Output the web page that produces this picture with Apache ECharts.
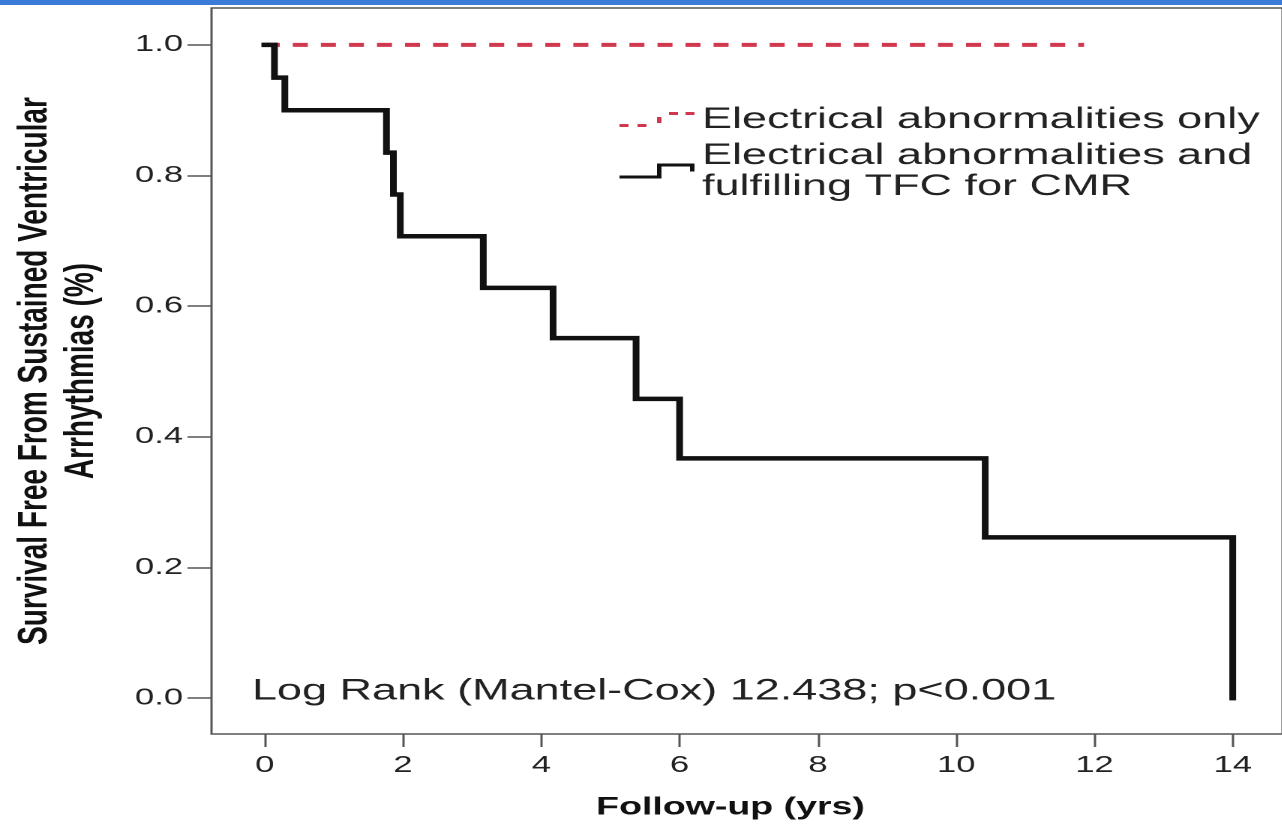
<!DOCTYPE html>
<html>
<head>
<meta charset="utf-8">
<title>Survival free from sustained ventricular arrhythmias</title>
<script src="https://cdn.jsdelivr.net/npm/echarts@6/dist/echarts.min.js"></script>
<style>
    html, body { margin: 0; padding: 0; overflow: hidden; background: #fff; }
    /* the source figure is stretched sideways, so the chart is drawn narrow and widened */
    #chart { width: 855px; height: 825px; transform: scaleX(1.5); transform-origin: 0 0; }
</style>
</head>
<body>
<div id="chart"></div>
<script>
// 数据
var timeOnly = [0, 11.85];
var survOnly = [1.0, 1.0];
var timeTFC = [0, 0.14, 0.29, 1.76, 1.86, 1.96, 3.16, 4.17, 5.37, 6.0, 10.42, 14.0];
var survTFC = [1.0, 0.95, 0.90, 0.835, 0.771, 0.707, 0.628, 0.551, 0.458, 0.367, 0.246, 0.0];
var xTicks = [0, 2, 4, 6, 8, 10, 12, 14];
var yTicks = [0, 0.2, 0.4, 0.6, 0.8, 1.0];

var nameOnly = 'Electrical abnormalities only';
var nameTFC = 'Electrical abnormalities and\nfulfilling TFC for CMR';
var font = "'Liberation Sans', Arial, sans-serif";

function pairs(xs, ys) {
    return xs.map(function(x, i) { return [x, ys[i]]; });
}

var chart = echarts.init(document.getElementById('chart'), null, { devicePixelRatio: 2 });

var option = {
    animation: false,
    textStyle: { fontFamily: font },
    grid: {
        left: 141, right: -3, top: 8, bottom: 89,
        show: true, borderColor: '#555', borderWidth: 1.5
    },
    legend: {
        orient: 'vertical',
        left: 413, top: 104,
        padding: 0,
        itemWidth: 50, itemHeight: 15, itemGap: 5,
        selectedMode: false,
        textStyle: { fontFamily: font, fontSize: 30, color: '#222', lineHeight: 31 },
        data: [
            { name: nameOnly, icon: 'path://M0,12h6v3h-6z M12,12h6v3h-6z M25,5h3v6h-3z M33,0h6v3h-6z M44,0h6v3h-6z' },
            { name: nameTFC, icon: 'path://M0,12L25,12L25,0L50,0L50,8L47,8L47,3L28,3L28,15L0,15z' }
        ]
    },
    xAxis: {
        type: 'value',
        min: -0.7706, max: 14.72,
        name: 'Follow-up (yrs)',
        nameLocation: 'middle',
        nameGap: 61,
        nameTextStyle: { fontFamily: font, fontSize: 25, fontWeight: 'bold', color: '#111', padding: [0, 22, 0, 0] },
        axisLine: { show: false, onZero: false },
        splitLine: { show: false },
        axisTick: { customValues: xTicks, length: 13, lineStyle: { color: '#555', width: 1.5 } },
        axisLabel: { customValues: xTicks, margin: 20, fontSize: 23, color: '#222' }
    },
    yAxis: {
        type: 'value',
        min: -0.055, max: 1.0565,
        name: 'Survival Free From Sustained Ventricular\nArrhythmias (%)',
        nameLocation: 'middle',
        nameRotate: 90,
        nameGap: 71,
        nameTextStyle: { fontFamily: font, fontSize: 28, fontWeight: 'bold', color: '#111', lineHeight: 31 },
        axisLine: { show: false, onZero: false },
        splitLine: { show: false },
        axisTick: { customValues: yTicks, length: 16, lineStyle: { color: '#555', width: 1.5 } },
        axisLabel: {
            customValues: yTicks, margin: 19, fontSize: 23, color: '#222',
            formatter: function(v) { return v.toFixed(1); }
        }
    },
    graphic: [
        { type: 'rect', left: 0, top: 0, z: 10, shape: { width: 860, height: 5 }, style: { fill: '#3b7bd8' } },
        {
            type: 'text', x: 168, y: 691, z: 10,
            style: { text: 'Log Rank (Mantel-Cox) 12.438; p<0.001', fontFamily: font, fontSize: 30, fill: '#222', verticalAlign: 'middle' }
        }
    ],
    series: [{
        name: nameOnly,
        type: 'line',
        step: 'end',
        symbol: 'none',
        color: '#d0384e',
        lineStyle: { color: '#d0384e', width: 4, type: [10, 8.7], cap: 'butt' },
        data: pairs(timeOnly, survOnly)
    }, {
        name: nameTFC,
        type: 'line',
        step: 'end',
        symbol: 'none',
        color: '#111',
        lineStyle: { color: '#111', width: 4.5, cap: 'square', join: 'miter' },
        data: pairs(timeTFC, survTFC)
    }]
};

chart.setOption(option);
</script>
</body>
</html>
